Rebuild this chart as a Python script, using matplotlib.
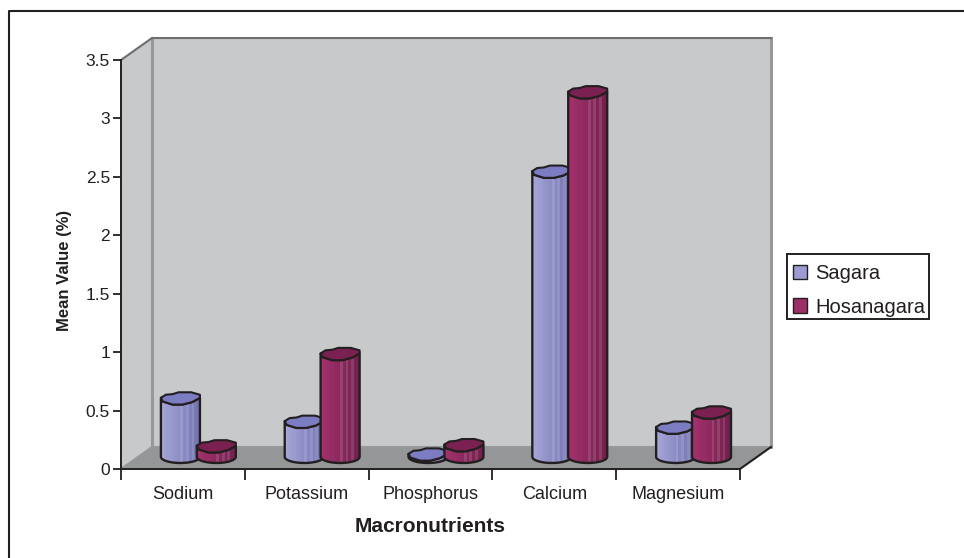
import numpy as np
import matplotlib
matplotlib.use("Agg")
import matplotlib.pyplot as plt
from matplotlib.lines import Line2D
from matplotlib.patches import Polygon, Rectangle, Patch
from matplotlib.colors import to_rgb

plt.rcParams['font.family'] = ['Liberation Sans', 'DejaVu Sans']

categories = ['Sodium', 'Potassium', 'Phosphorus', 'Calcium', 'Magnesium']
sagara = [0.50, 0.30, 0.02, 2.44, 0.25]
hosanagara = [0.09, 0.88, 0.10, 3.12, 0.38]
yticks = [0, 0.5, 1, 1.5, 2, 2.5, 3, 3.5]
yticklabels = ['0', '0.5', '1', '1.5', '2', '2.5', '3', '3.5']

W, H = 964, 558
INK = '#231f20'
WALL = '#c8c9cb'
FLOOR = '#959697'
EDGE = '#97989a'

# depth of the fake 3d box, in data units
DX = 0.25
DY = 0.188

fig = plt.figure(figsize=(W / 100, H / 100), dpi=100)
fig.patch.set_facecolor('white')
# page frame only shows on the left and top, it runs off the picture
fig.add_artist(Line2D([9 / W, 9 / W, 1], [0, 1 - 10.5 / H, 1 - 10.5 / H], transform=fig.transFigure,
                      color=INK, linewidth=1.5))
ax = fig.add_axes([121 / W, 1 - 469 / H, 619 / W, 409 / H])
ax.set_xlim(0, 5)
ax.set_ylim(0, 3.5)
ax.patch.set_visible(False)


def box(pts, fc, ec='none', lw=0, z=1):
    p = Polygon(pts, closed=True, facecolor=fc, edgecolor=ec, linewidth=lw, clip_on=False, zorder=z)
    ax.add_patch(p)
    return p


box([(0, 0), (DX, DY), (DX, 3.5 + DY), (0, 3.5)], WALL)
box([(DX, DY), (5 + DX, DY), (5 + DX, 3.5 + DY), (DX, 3.5 + DY)], WALL)
box([(0, 0), (DX, DY), (5 + DX, DY), (5, 0)], FLOOR)
ax.plot([DX, DX], [DY, 3.5 + DY], color=EDGE, lw=2.2, clip_on=False, zorder=1.5)
ax.plot([5 + DX, 5 + DX], [DY, 3.5 + DY], color=EDGE, lw=2.2, clip_on=False, zorder=1.5)
ax.plot([DX, 5 + DX], [DY, DY], color=EDGE, lw=1.5, clip_on=False, zorder=1.5)
ax.plot([0, DX, 5 + DX], [3.5, 3.5 + DY, 3.5 + DY], color='#6d6e70', lw=1.5, clip_on=False, zorder=1.5)
ax.plot([0, DX], [0, DY], color=EDGE, lw=1.5, clip_on=False, zorder=1.5)
ax.plot([5, 5 + DX], [0, DY], color=INK, lw=1.5, clip_on=False, zorder=6)

BW = 0.315
EH = 0.105

# lumpy lid outline, unit coordinates, front edge first (left to right)
lid_front = [(-1, 0.1), (-0.9, -0.5), (-0.4, -1), (0.1, -1), (0.6, -0.6), (1, 0.1)]
lid_back = [(1, 0.6), (0.55, 1), (-0.1, 1), (-0.4, 0.7), (-0.75, 0.6)]


def cyl(xc, val, light, dark, topc, z):
    base = DY / 2 + 0.01
    top = base + val
    t = np.linspace(np.pi, 2 * np.pi, 25)
    bx = xc + BW / 2 * np.cos(t)
    by = base + EH / 2 * np.sin(t)
    front = np.array(lid_front)
    tx = xc + BW / 2 * front[::-1, 0]
    ty = top + EH / 2 * front[::-1, 1]
    body = np.concatenate([np.column_stack([bx, by]), np.column_stack([tx, ty])])
    outline = box(body, 'none', INK, 1.7, z + 0.3)
    outline.set_joinstyle('round')
    clip = box(body, 'none', z=z)
    n = 14
    lo, hi = np.array(to_rgb(light)), np.array(to_rgb(dark))
    for i in range(n):
        f = i / (n - 1)
        c = lo + (hi - lo) * f
        if i in (7, 9, 11):
            c = c + (1 - c) * 0.12
        r = Rectangle((xc - BW / 2 + i * BW / n, base - EH), BW / n + 0.004, val + 2 * EH,
                      facecolor=c, edgecolor='none', zorder=z + 0.1)
        ax.add_patch(r)
        r.set_clip_path(clip)
    lid = np.array(lid_front + lid_back)
    box(np.column_stack([xc + BW / 2 * lid[:, 0], top + EH / 2 * lid[:, 1]]), topc, INK, 1.5,
        z + 0.4).set_joinstyle('round')


for i in range(len(categories)):
    xc = i + 0.5 + DX / 2
    cyl(xc - 0.145, sagara[i], '#a5a5d8', '#7474b2', '#7c7cc2', 3 + i * 0.01)
    cyl(xc + 0.145, hosanagara[i], '#a3316c', '#74204e', '#7a2152', 4 + i * 0.01)

ax.spines['top'].set_visible(False)
ax.spines['right'].set_visible(False)
for s in ('left', 'bottom'):
    ax.spines[s].set_color(INK)
    ax.spines[s].set_linewidth(1.4)
    ax.spines[s].set_zorder(6)

ax.set_yticks(yticks)
ax.set_yticklabels(yticklabels)
ax.set_xticks(range(6))
ax.set_xticklabels([])
ax.set_xticks(np.arange(5) + 0.5, categories, minor=True)
ax.tick_params(axis='y', length=6, width=1.3, color=INK, labelsize=12.5, labelcolor=INK, pad=2)
ax.tick_params(axis='x', which='major', length=8, width=1.3, color=INK)
ax.tick_params(axis='x', which='minor', length=0, labelsize=13, labelcolor=INK, pad=12)

ax.set_xlabel('Macronutrients', fontsize=15, fontweight='bold', color=INK, labelpad=10)
ax.set_ylabel('Mean Value (%)', fontsize=12, fontweight='bold', color=INK, labelpad=10, y=0.485)

# legend box drawn apart, the entries sit a bit low in it
fig.add_artist(Rectangle((787 / W, 1 - 319 / H), 142 / W, 65 / H, transform=fig.transFigure,
                         facecolor='white', edgecolor=INK, linewidth=1.4))
handles = [Patch(facecolor='#9c9cd2', edgecolor=INK, label='Sagara'),
           Patch(facecolor='#9c2f66', edgecolor=INK, label='Hosanagara')]
leg = fig.legend(handles=handles, loc='center left', bbox_to_anchor=(787 / W, 1 - 290.5 / H),
                 fontsize=14.5, frameon=False, handlelength=0.7, handleheight=0.7,
                 handletextpad=0.4, labelspacing=0.7, borderpad=0.3, borderaxespad=0,
                 labelcolor=INK)

fig.savefig('out.png', dpi=100)
